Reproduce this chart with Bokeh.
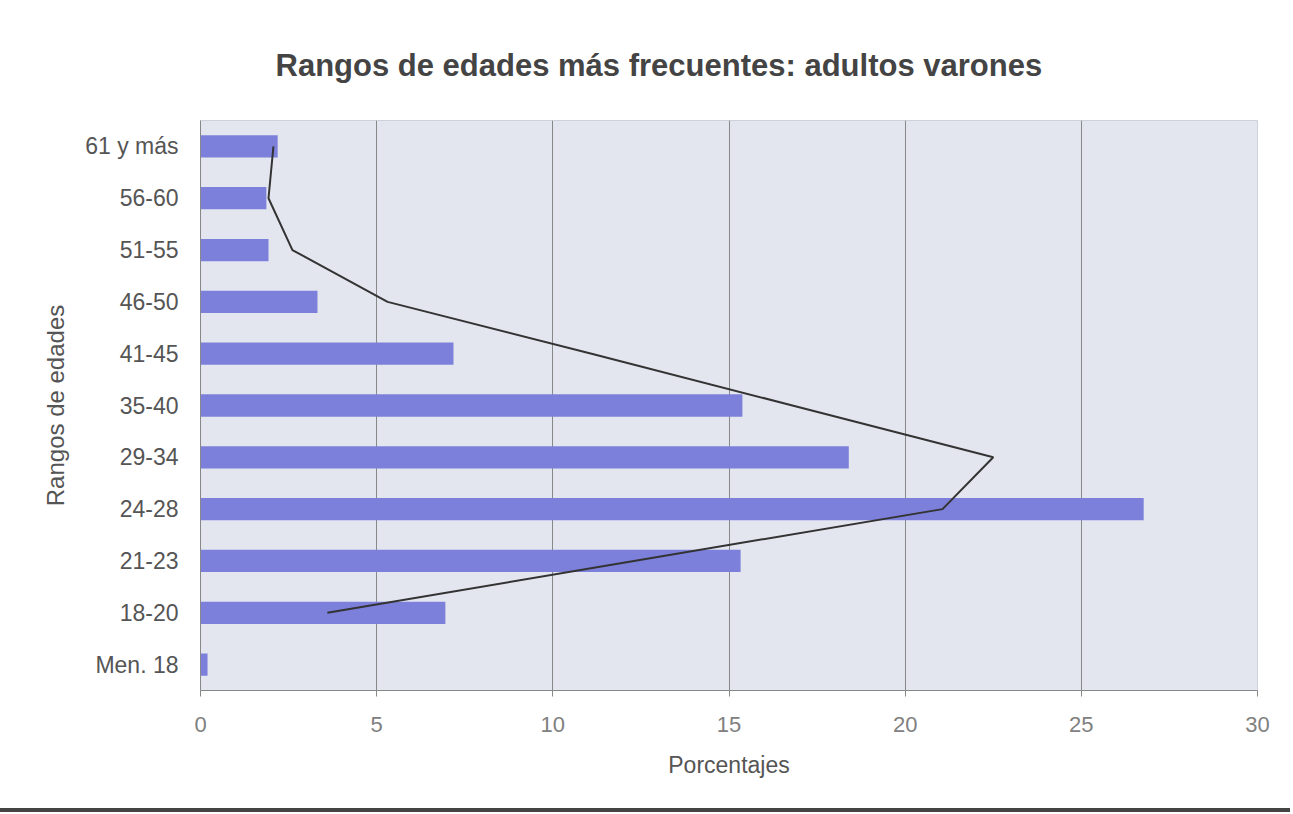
from bokeh.plotting import figure
from bokeh.models import ColumnDataSource, FactorRange, Range1d, FixedTicker
from bokeh.embed import file_html
from bokeh.resources import INLINE
import math

categories = ["Men. 18", "18-20", "21-23", "24-28", "29-34", "35-40",
              "41-45", "46-50", "51-55", "56-60", "61 y más"]
bar_values = [0.2, 6.95, 15.33, 26.77, 18.4, 15.38, 7.18, 3.32, 1.93, 1.87, 2.19]
line_values = [float("nan"), 3.6, 12.3, 21.06, 22.5, 16.8, 11.1, 5.31, 2.61, 1.93, 2.07]
x_ticks = [0, 5, 10, 15, 20, 25, 30]

FONT = "Liberation Sans"
W, H = 1290, 812

p = figure(width=W, height=H, y_range=FactorRange(factors=categories, range_padding=0),
           x_range=Range1d(0, 30), output_backend="svg", toolbar_location=None,
           min_border_left=200, min_border_right=W - 1257, min_border_top=120,
           min_border_bottom=H - 690,
           title="Rangos de edades más frecuentes: adultos varones")

p.background_fill_color = "#E3E6EF"
p.border_fill_color = "white"
p.outline_line_color = "#CDD1D9"

bar_src = ColumnDataSource(dict(cat=categories, val=bar_values))
p.hbar(y="cat", right="val", left=0, height=0.43, source=bar_src,
       fill_color="#7C80DA", line_color=None)

lc = [c for c, v in zip(categories, line_values) if not math.isnan(v)]
lv = [v for v in line_values if not math.isnan(v)]
line_src = ColumnDataSource(dict(cat=lc, val=lv))
p.line(x="val", y="cat", source=line_src, line_color="#333333", line_width=2)

# title
p.title.align = "left"
p.title.text_font = FONT
p.title.text_font_size = "31px"
p.title.text_font_style = "bold"
p.title.text_color = "#444444"
p.title.standoff = 75
p.title.offset = 75

# grids
p.ygrid.grid_line_color = None
p.xgrid.grid_line_color = "#888888"
p.xgrid.grid_line_width = 1
p.xgrid.ticker = FixedTicker(ticks=x_ticks)

# x axis
p.xaxis.ticker = FixedTicker(ticks=x_ticks)
p.xaxis.axis_line_color = "#888888"
p.xaxis.major_tick_line_color = "#888888"
p.xaxis.major_tick_out = 6
p.xaxis.major_tick_in = 0
p.xaxis.minor_tick_line_color = None
p.xaxis.major_label_standoff = 20
p.xaxis.major_label_text_font = FONT
p.xaxis.major_label_text_font_size = "22px"
p.xaxis.major_label_text_color = "#808080"
p.xaxis.axis_label = "Porcentajes"
p.xaxis.axis_label_text_font = FONT
p.xaxis.axis_label_text_font_size = "23px"
p.xaxis.axis_label_text_font_style = "normal"
p.xaxis.axis_label_text_color = "#555555"
p.xaxis.axis_label_standoff = 17

# y axis
p.yaxis.axis_line_color = "#888888"
p.yaxis.major_tick_line_color = None
p.yaxis.major_tick_out = 0
p.yaxis.major_label_standoff = 22
p.yaxis.major_label_text_font = FONT
p.yaxis.major_label_text_font_size = "23px"
p.yaxis.major_label_text_color = "#555555"
p.yaxis.axis_label = "Rangos de edades"
p.yaxis.axis_label_text_font = FONT
p.yaxis.axis_label_text_font_size = "24px"
p.yaxis.axis_label_text_font_style = "normal"
p.yaxis.axis_label_text_color = "#555555"
p.yaxis.axis_label_standoff = 13

p.styles = {"border-bottom": "4px solid #444444"}

open("out.html", "w").write(file_html(p, INLINE))
